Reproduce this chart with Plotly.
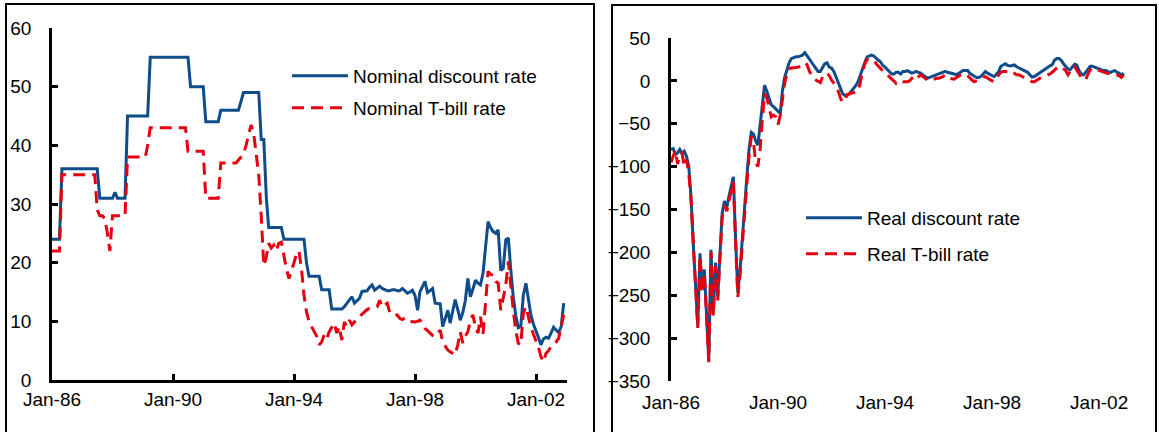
import pandas as pd
import plotly.graph_objects as go

# ---------------- data (monthly, Jan-1986 .. Dec-2002) ----------------
months = pd.date_range("1986-01-01", periods=204, freq="MS")

nominal_discount = [
    24, 24, 24, 24, 36, 36, 36, 36, 36, 36, 36, 36,            # 1986
    36, 36, 36, 36, 36, 36, 36, 31, 31, 31, 31, 31,            # 1987
    31, 32, 31, 31, 31, 31, 45, 45, 45, 45, 45, 45,            # 1988
    45, 45, 45, 55, 55, 55, 55, 55, 55, 55, 55, 55,            # 1989
    55, 55, 55, 55, 55, 55, 55, 50, 50, 50, 50, 50,            # 1990
    50, 44, 44, 44, 44, 44, 44, 46, 46, 46, 46, 46,            # 1991
    46, 46, 46, 47.5, 49, 49, 49, 49, 49, 49, 49, 41,          # 1992
    41, 31, 26, 26, 26, 26, 26, 26, 24, 24, 24, 24,            # 1993
    24, 24, 24, 24, 24, 20, 17.7, 17.7, 17.7, 17.7, 17.7, 15.4,  # 1994
    15.4, 15.4, 15.4, 12.1, 12.1, 12.1, 12.1, 12.1, 12.5, 13.1, 13.7, 14.2,  # 1995
    13.1, 13.5, 13.9, 15.1, 15.1, 15.2, 15.8, 16.2, 15.3, 15.6, 16.0, 15.6,  # 1996
    15.4, 15.2, 15.2, 15.4, 15.4, 15.2, 15.2, 15.6, 15.2, 14.8, 15.0, 15.3,  # 1997
    14.4, 11.9, 15.0, 15.8, 16.8, 14.9, 15.3, 15.6, 13.1, 13.0, 13.0, 9.1,   # 1998
    10.5, 11.9, 9.7, 11.5, 13.7, 12.0, 10.2, 11.5, 13.6, 17.3, 14.2, 15.5,   # 1999
    17.0, 16.5, 16.2, 18.2, 22.0, 27.0, 26.0, 25.3, 25.0, 25.6, 18.7, 19.0,  # 2000
    23.9, 24.2, 19.0, 14.2, 11.0, 8.9, 9.1, 14.5, 16.5, 13.5, 11.0, 9.5,     # 2001
    8.5, 7.2, 6.0, 7.0, 7.3, 7.1, 8.0, 9.0, 8.5, 8.1, 9.1, 13.1,             # 2002
]

nominal_tbill = [
    22, 22, 22, 22, 35, 35, 35, 35, 35, 35, 35, 35,            # 1986
    35, 35, 35, 35, 35, 35, 29, 28, 28, 27.5, 25, 22,          # 1987
    28, 28, 28, 28, 28, 28, 38, 38, 38, 38, 38, 38,            # 1988
    38, 38, 40, 43, 43, 43, 43, 43, 43, 43, 43, 43,            # 1989
    43, 43, 43, 43, 43, 43, 39, 39, 39, 39, 39, 39,            # 1990
    39, 31, 31, 31, 31, 31, 31, 37, 37, 37, 37, 37,            # 1991
    37, 37, 37.5, 38, 38.5, 40, 41.5, 43.5, 42, 39, 35, 28,    # 1992
    19.5, 21, 23.3, 22.5, 23, 22, 23.3, 23.5, 21, 19, 17.3, 18.5,  # 1993
    20, 21.5, 22, 19, 14.5, 11.6, 10, 9.1, 8.2, 7.5, 6, 6.5,   # 1994
    7.7, 7, 8.2, 9, 9.7, 8, 9.1, 6.8, 9.9, 9.1, 10.2, 9.4,     # 1995
    10, 10.4, 10.8, 11.2, 11.6, 12, 12.2, 12.3, 12.3, 12.5, 13.6, 12.4,  # 1996
    12.8, 13.1, 11.5, 11.1, 11, 11.1, 10.5, 10.3, 10.6, 10.2, 10, 9.9,   # 1997
    9.9, 10, 10.2, 9.7, 8.8, 8.4, 8, 7.6, 7.4, 8, 8.5, 6.5,    # 1998
    5.8, 5.1, 4.8, 4.5, 4.3, 6, 8.2, 6.3, 7.5, 8.2, 10.2, 11.1,  # 1999
    9, 8, 10.8, 7.8, 13, 18.5, 18, 17.9, 16.8, 16.5, 11.9, 14,   # 2000
    16.2, 20.2, 16, 11.9, 8.5, 6.25, 6, 11.4, 12.5, 10.5, 9, 7.8,  # 2001
    6.8, 5.5, 4, 3.1, 4.5, 5, 5.7, 6.2, 6.5, 7.1, 9.1, 11.1,   # 2002
]

real_discount = [
    -80, -79, -86, -84, -80, -85, -82, -88, -100, -135, -190, -240,      # 1986
    -285, -201, -244, -220, -267, -326, -197, -271, -212, -252, -201, -154,  # 1987
    -140, -148, -135, -123, -112, -185, -247, -220, -180, -147, -112, -80,   # 1988
    -60, -62, -70, -75, -50, -25, -5, -12, -20, -28, -30, -33,          # 1989
    -36, -38, -12, 4, 12, 21, 26, 27, 28, 28, 29, 30,                   # 1990
    33, 30, 26, 22, 18, 14, 11, 11, 16, 20, 21, 16,                     # 1991
    15, 11, 5, -2, -10, -15, -17, -17, -15, -12, -9, -5,                # 1992
    0, 8, 15, 22, 28, 29, 30, 29, 26, 24, 22, 18,                       # 1993
    16, 13, 11, 8, 8, 10, 10, 8, 11, 11, 12, 10,                        # 1994
    9, 10, 11, 10, 9, 7, 5, 3, 4, 5, 6, 7,                              # 1995
    8, 9, 10, 11, 10, 9.5, 9, 8, 7, 9, 11, 12,                          # 1996
    12, 12, 9, 7, 5, 4, 4, 5, 8, 11, 9, 7,                              # 1997
    6, 5, 8, 11, 17, 19, 20, 18, 17.5, 18, 18.7, 16.5,                  # 1998
    15, 13.5, 12, 11, 10, 7, 4.5, 5, 7, 9, 11, 13,                      # 1999
    14, 16, 17.5, 19, 24, 26, 26, 24, 20, 16.5, 14, 13,                 # 2000
    17, 19.5, 18.7, 12, 8, 7, 10, 13, 17, 17, 16, 14.5,                 # 2001
    13.5, 12.5, 12, 12, 11, 9.7, 11, 12, 10, 9, 6.5, 9,                 # 2002
]

real_tbill = [
    -95, -88, -81, -97, -86, -84, -100, -92, -108, -138, -193, -244,     # 1986
    -288, -204, -247, -224, -270, -328, -200, -274, -216, -256, -205, -158,  # 1987
    -145, -152, -140, -128, -118, -190, -252, -226, -186, -153, -120, -88,   # 1988
    -65, -72, -95, -100, -80, -45, -15, -20, -32, -42, -40, -42,        # 1989
    -51, -40, -22, -3, 8, 14, 15, 15, 15.5, 16, 17, 20,                 # 1990
    21, 19, 12, 7, 3, 1, -1, -2, 5, 8, 9, 6,                            # 1991
    1, -2, -6, -12, -20, -25, -22, -16, -15, -14, -13.6, -13,           # 1992
    -12, 0, 12, 20, 25, 25.5, 25, 24, 20, 17, 15, 12,                   # 1993
    9, 7, 4, 2, 0, -3, -1, 0, -1, -1, -1, 0,                            # 1994
    3, 0, 2, 5, 7, 5, 3, 1, 0, 1, 1.5, 3,                               # 1995
    3, 4, 5, 7, 5, 3, 2.5, 2, 4, 6, 7, 7.5,                             # 1996
    8, 6, 3, 1, -1, 0, 1, 2, 4, 5, 3, 1,                                # 1997
    0, -1, 3, 7, 10, 11, 11, 11, 12, 10, 8, 7,                          # 1998
    7, 6, 4.5, 3, 1.5, 0, -1, -1, 1, 3, 4, 5,                           # 1999
    6, 7, 8, 10, 12.8, 15, 16.7, 16, 14, 12, 7, 11,                     # 2000
    15, 16.7, 13, 9, 4, 2, 1, 8, 13, 15, 14, 13,                        # 2001
    12, 11, 10, 9, 8.5, 8, 8, 7.5, 7, 6, 4, 7,                          # 2002
]

tick_dates = ["1986-01-01", "1990-01-01", "1994-01-01", "1998-01-01", "2002-01-01"]
tick_labels = ["Jan-86", "Jan-90", "Jan-94", "Jan-98", "Jan-02"]

names = ["Nominal discount rate", "Nominal T-bill rate",
         "Real discount rate", "Real T-bill rate"]

# ---------------- styling / layout ----------------
W, H = 1159, 432
BLUE = "#0F4C8A"
RED = "#E5000F"
FONT = "Liberation Sans"
FS = 19
AX = 2.5

def fx(p):
    return p / W

def fy(p):
    return 1 - p / H

left_range = ["1986-01-01", "2003-01-10"]
right_range = ["1986-01-01", "2003-01-16"]

fig = go.Figure()
fig.add_trace(go.Scatter(x=months, y=nominal_discount, mode="lines", name=names[0],
                         line=dict(color=BLUE, width=3), xaxis="x", yaxis="y",
                         legend="legend"))
fig.add_trace(go.Scatter(x=months, y=nominal_tbill, mode="lines", name=names[1],
                         line=dict(color=RED, width=3, dash="12px,7px"),
                         xaxis="x", yaxis="y", legend="legend2"))
fig.add_trace(go.Scatter(x=months, y=real_discount, mode="lines", name=names[2],
                         line=dict(color=BLUE, width=3), xaxis="x2", yaxis="y2",
                         legend="legend3"))
fig.add_trace(go.Scatter(x=months, y=real_tbill, mode="lines", name=names[3],
                         line=dict(color=RED, width=3, dash="12px,7px"),
                         xaxis="x2", yaxis="y2", legend="legend4"))

tickfont = dict(family=FONT, size=FS, color="black")
ydom_l = [fy(380), fy(28)]
ydom_r = [fy(381), fy(38)]
xdom_l = [fx(52), fx(567)]
xdom_r = [fx(671), fx(1127)]
zero_pos = ydom_r[0] + (0 - (-350)) / 400 * (ydom_r[1] - ydom_r[0])

common_x = dict(type="date", tickvals=tick_dates, ticktext=tick_labels,
                showgrid=False, zeroline=False, tickfont=tickfont, automargin=False)
common_y = dict(showgrid=False, zeroline=False, tickfont=tickfont, automargin=False,
                showline=True, linecolor="black", linewidth=AX,
                ticks="inside", ticklen=6, tickwidth=AX, tickcolor="black",
                ticklabelstandoff=14)

legend_common = dict(font=dict(family=FONT, size=FS, color="black"),
                     bgcolor="rgba(0,0,0,0)", borderwidth=0, itemwidth=56,
                     xanchor="left", yanchor="middle")

fig.update_layout(
    width=W, height=H,
    margin=dict(l=0, r=0, t=0, b=0, pad=0, autoexpand=False),
    paper_bgcolor="white", plot_bgcolor="white",
    hovermode=False,
    showlegend=True,
    xaxis=dict(**common_x, domain=xdom_l, anchor="y", range=left_range,
               showline=True, linecolor="black", linewidth=AX,
               ticks="inside", ticklen=6, tickwidth=AX, tickcolor="black",
               ticklabelstandoff=0),
    yaxis=dict(**common_y, domain=ydom_l, anchor="x", range=[0, 60], dtick=10),
    xaxis2=dict(**common_x, domain=xdom_r, anchor="y2", range=right_range,
                showline=False, ticks="", ticklabelstandoff=8),
    yaxis2=dict(**common_y, domain=ydom_r, anchor="x2", range=[-350, 50], dtick=50),
    xaxis3=dict(type="date", domain=xdom_r, overlaying="x2", anchor="free",
                position=zero_pos, range=right_range, tickvals=tick_dates,
                showticklabels=False, showgrid=False, zeroline=False, automargin=False,
                showline=True, linecolor="black", linewidth=AX,
                ticks="inside", ticklen=6, tickwidth=AX, tickcolor="black"),
    legend=dict(**legend_common, x=fx(287), y=fy(76)),
    legend2=dict(**legend_common, x=fx(287), y=fy(108)),
    legend3=dict(**legend_common, x=fx(801), y=fy(218)),
    legend4=dict(**legend_common, x=fx(801), y=fy(254)),
    shapes=[
        dict(type="rect", xref="paper", yref="paper", x0=fx(6), x1=fx(594),
             y0=-0.2, y1=fy(4), line=dict(color="black", width=2)),
        dict(type="rect", xref="paper", yref="paper", x0=fx(612), x1=fx(1156),
             y0=-0.2, y1=fy(5), line=dict(color="black", width=2)),
    ],
)

fig.write_html("out.html", config={"displayModeBar": False},
               post_script="document.body.style.margin='0';document.body.style.overflow='hidden';")
